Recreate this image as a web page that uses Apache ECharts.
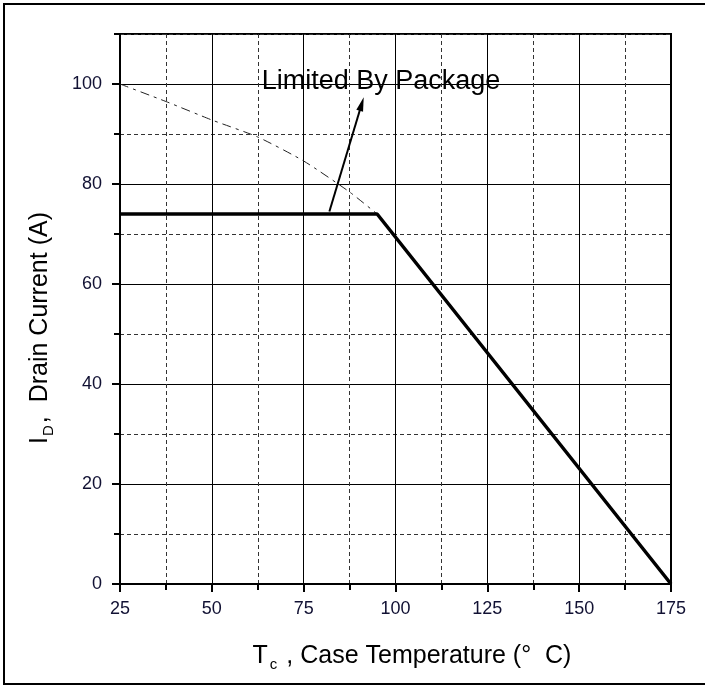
<!DOCTYPE html>
<html>
<head>
<meta charset="utf-8">
<script src="https://cdn.jsdelivr.net/npm/echarts@6/dist/echarts.min.js"></script>
<style>
  html, body { margin: 0; padding: 0; background: #fff; }
  #chart { width: 705px; height: 686px; }
</style>
</head>
<body>
<div id="chart"></div>
<script>
// data
var xMajorTicks = [25, 50, 75, 100, 125, 150, 175];
var yMajorTicks = [0, 20, 40, 60, 80, 100];
// package-limited drain current (solid)
var limitCurve = [[25, 74], [95, 74], [175, 0]];
// thermal limit, dash-dot
var thermalCurve = [[25, 100], [37.5, 96.5], [50, 92.8], [62.5, 89.4], [75, 84.6], [87.5, 78.4], [95, 74]];
// arrow pointing at the label
var arrowFrom = [82, 74.5];
var arrowTo = [90.8, 96];
var noteText = 'Limited By Package';

var FONT = '"Liberation Sans", Arial, sans-serif';
var chart = echarts.init(document.getElementById('chart'));

var option = {
  animation: false,
  backgroundColor: '#fff',
  grid: {
    left: 120, right: 34, top: 34, bottom: 102,
    show: true, borderColor: '#000', borderWidth: 2
  },
  xAxis: [
    { // minor grid (dashed)
      type: 'value', min: 25, max: 175, interval: 12.5,
      axisLine: { show: false },
      axisTick: { show: true, length: 6, lineStyle: { color: '#000', width: 2 } },
      axisLabel: { show: false },
      splitLine: { show: true, lineStyle: { color: '#333', width: 1, type: [4, 3] } }
    },
    { // major grid (solid)
      type: 'value', min: 25, max: 175, interval: 25, position: 'bottom',
      axisLine: { show: true, onZero: false, lineStyle: { color: '#000', width: 2 } },
      axisTick: { show: true, length: 8, lineStyle: { color: '#000', width: 2 } },
      axisLabel: {
        show: true, margin: 16, color: '#111133', fontSize: 18, fontFamily: FONT,
        customValues: xMajorTicks
      },
      splitLine: { show: true, lineStyle: { color: '#000', width: 1 } }
    }
  ],
  yAxis: [
    {
      type: 'value', min: 0, max: 110, interval: 10,
      axisLine: { show: false },
      axisTick: { show: true, length: 6, lineStyle: { color: '#000', width: 2 } },
      axisLabel: { show: false },
      splitLine: { show: true, lineStyle: { color: '#333', width: 1, type: [4, 3] } }
    },
    {
      type: 'value', min: 0, max: 110, interval: 20, position: 'left',
      axisLine: { show: true, onZero: false, lineStyle: { color: '#000', width: 2 } },
      axisTick: { show: true, length: 8, customValues: yMajorTicks, lineStyle: { color: '#000', width: 2 } },
      axisLabel: {
        show: true, margin: 18, color: '#111133', fontSize: 18, fontFamily: FONT,
        customValues: yMajorTicks
      },
      splitLine: { show: true, lineStyle: { color: '#000', width: 1 } }
    }
  ],
  series: [
    {
      type: 'line', xAxisIndex: 1, yAxisIndex: 1,
      data: thermalCurve, smooth: 0.2, showSymbol: false,
      lineStyle: { color: '#222', width: 1, type: [9, 5, 3, 5] },
      z: 3
    },
    {
      type: 'line', xAxisIndex: 1, yAxisIndex: 1,
      data: limitCurve, showSymbol: false,
      lineStyle: { color: '#000', width: 3.5 },
      z: 4,
      markLine: {
        silent: true,
        symbol: ['none', 'triangle'],
        symbolSize: [7, 14],
        label: { show: false },
        lineStyle: { color: '#000', width: 2, type: 'solid' },
        data: [[{ coord: arrowFrom }, { coord: arrowTo }]]
      }
    }
  ],
  graphic: [
    {
      type: 'rect', silent: true, z: 100,
      shape: { x: 4, y: 4, width: 720, height: 680 },
      style: { fill: 'none', stroke: '#000', lineWidth: 2 }
    },
    {
      type: 'text', z: 100, x: 381, y: 82,
      style: {
        text: noteText, font: '27px ' + FONT, fill: '#000',
        align: 'center', verticalAlign: 'middle'
      }
    },
    {
      type: 'text', z: 100, x: 412, y: 656,
      style: {
        text: '{m|T}{s|c}{m| , Case Temperature (°  C)}',
        align: 'center', verticalAlign: 'middle',
        rich: {
          m: { fontSize: 25, fontFamily: FONT, fill: '#000' },
          s: { fontSize: 15, fontFamily: FONT, fill: '#000', padding: [18, 2, 0, 2] }
        }
      }
    },
    {
      type: 'text', z: 100, x: 40, y: 328, rotation: Math.PI / 2,
      style: {
        text: '{m|I}{s|D}{m|,  Drain Current (A)}',
        align: 'center', verticalAlign: 'middle',
        rich: {
          m: { fontSize: 25, fontFamily: FONT, fill: '#000' },
          s: { fontSize: 15, fontFamily: FONT, fill: '#000', padding: [18, 2, 0, 1] }
        }
      }
    }
  ]
};
chart.setOption(option);
</script>
</body>
</html>
